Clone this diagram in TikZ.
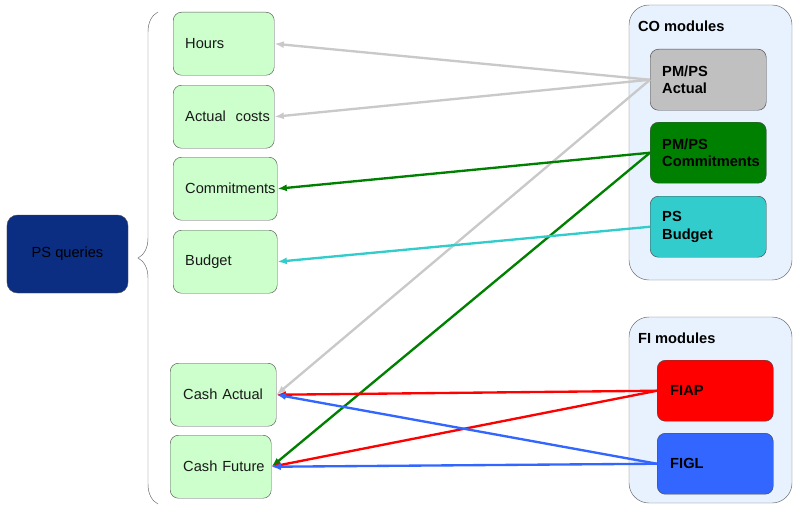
\documentclass[tikz,border=0pt]{standalone}
\usepackage{fontspec}
\setmainfont{Liberation Sans}
\usepackage{xcolor}
\usetikzlibrary{arrows.meta,decorations.pathreplacing}
\definecolor{qgreen}{HTML}{CCFFCC}
\definecolor{psnavy}{HTML}{0B2E82}
\definecolor{modfill}{HTML}{E8F2FE}
\definecolor{actgray}{HTML}{C0C0C0}
\definecolor{comgreen}{HTML}{008000}
\definecolor{budcyan}{HTML}{33CCCC}
\definecolor{apred}{HTML}{FF0000}
\definecolor{glblue}{HTML}{3366FF}

\begin{document}
\begin{tikzpicture}[x=0.03cm,y=0.03cm]
\tikzstyle{every node}+=[font=\fontsize{12.5}{15}\selectfont]
\tikzstyle{query}=[draw=black!65, fill=qgreen, rounded corners=7pt, minimum height=1.89cm, align=left, inner xsep=0.36cm, anchor=north west, text=black!90]
\tikzstyle{module}=[draw=black!70, rounded corners=7pt, minimum height=1.83cm, text width=2.76cm, align=left, inner xsep=0.36cm, anchor=north west, font=\fontsize{12.5}{15}\selectfont\bfseries]
\tikzstyle{group}=[draw=black!60, fill=modfill, rounded corners=17pt]
\tikzstyle{link}=[line width=2pt, -{Latex[length=8pt,width=6pt]}]
\useasboundingbox (0,0) rectangle (793,-506);
% left side
\node [draw=black!70, fill=psnavy, rounded corners=9pt, minimum width=3.63cm, minimum height=2.34cm] (ps) at (67.5,-254) {PS queries};
\coordinate (bracetop) at (158,-12);
\coordinate (bracebot) at (158,-504);
\draw [black!60, decorate, decoration={brace,amplitude=0.6cm}] (bracebot) -- (bracetop);
\node [query, text width=2.31cm] (hours) at (173,-12) {Hours};
\node [query, text width=2.31cm] (costs) at (173,-85) {\mbox{Actual\ \ costs}};
\node [query, text width=2.40cm] (commit) at (173,-157) {\mbox{Commitments}};
\node [query, text width=2.40cm] (budget) at (173,-230) {Budget};
\node [query, text width=2.40cm, inner xsep=0.39cm] (cashact) at (170,-363) {\mbox{Cash Actual}};
\node [query, text width=2.25cm, inner xsep=0.39cm] (cashfut) at (170,-435) {\mbox{Cash Future}};
% CO modules
\draw [group] (629,-5) rectangle (792,-280);
\node [anchor=west, font=\fontsize{12.5}{15}\selectfont\bfseries] (cotitle) at (634,-26) {CO modules};
\node [module, fill=actgray] (pmact) at (650,-49) {PM/PS\\Actual};
\node [module, fill=comgreen] (pmcom) at (650,-122) {PM/PS\\Commitments};
\node [module, fill=budcyan] (psbud) at (650,-196) {PS\\Budget};
% FI modules
\draw [group] (629,-317) rectangle (792,-503);
\node [anchor=west, font=\fontsize{12.5}{15}\selectfont\bfseries] (fititle) at (634,-338) {FI modules};
\node [module, fill=apred, inner xsep=0.39cm, text width=2.70cm] (fiap) at (657,-360) {FIAP};
\node [module, fill=glblue, inner xsep=0.39cm, text width=2.70cm] (figl) at (657,-433) {FIGL};
% links
\draw [link, actgray!85] (pmact.west) -- (hours.east);
\draw [link, actgray!85] (pmact.west) -- (costs.east);
\draw [link, actgray!85] (pmact.west) -- (cashact.east);
\draw [link, comgreen] (pmcom.west) -- (commit.east);
\draw [link, comgreen] (pmcom.west) -- (cashfut.east);
\draw [link, budcyan] (psbud.west) -- (budget.east);
\draw [link, apred] (fiap.west) -- (cashact.east);
\draw [link, apred] (fiap.west) -- (cashfut.east);
\draw [link, glblue] (figl.west) -- (cashact.east);
\draw [link, glblue] (figl.west) -- (cashfut.east);
\end{tikzpicture}
\end{document}
